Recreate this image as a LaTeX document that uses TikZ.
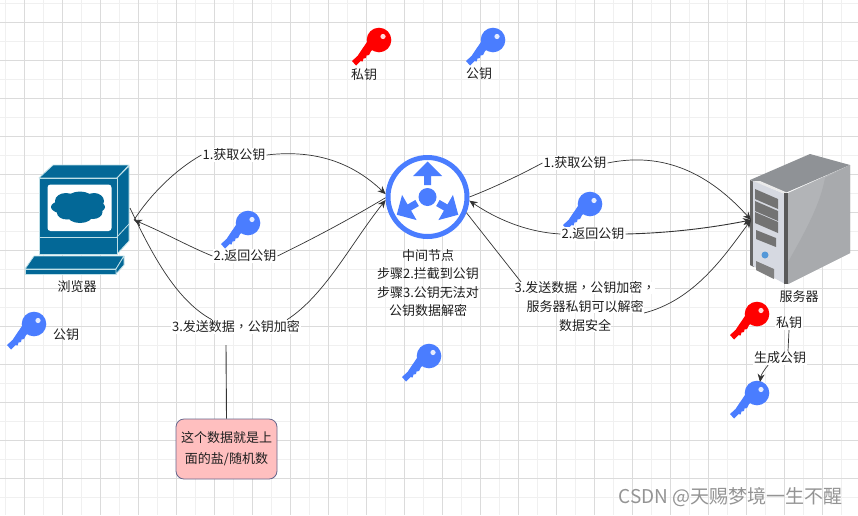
\documentclass[tikz,border=0pt]{standalone}
\usepackage{fontspec}
\setmainfont{Noto Sans CJK SC}
\newfontfamily\tcfont{Noto Sans CJK TC}
\newcommand{\cm}{{\tcfont ，}}
\newcommand{\wl}[1]{{\setlength{\fboxsep}{0pt}\colorbox{white}{#1}}}
\usetikzlibrary{arrows.meta}
\definecolor{keyblue}{HTML}{4A7DFF}
\definecolor{keyred}{HTML}{FF0000}
\definecolor{monblue}{HTML}{036897}
\definecolor{monedge}{HTML}{BFE0E8}
\definecolor{srvtop}{HTML}{8F9296}
\definecolor{srvside}{HTML}{B2B4B7}
\definecolor{srvsideb}{HTML}{A8AAAD}
\definecolor{srvfront}{HTML}{D6D9E1}
\tikzset{
  x=1pt,y=-1pt,
  txt/.style={font=\fontsize{13}{18.6}\selectfont,text=black!88,align=center,inner sep=1pt},
  lab/.style={txt,fill=white},
  conn/.style={draw=black!80,line width=0.7pt},
  tip/.style={-{Stealth[length=8pt,width=7pt]}},
  mon/.style={fill=monblue,draw=monedge,line width=0.8pt,line join=round},
  keypic/.pic={
    \fill[pic actions] (-21.5,16) -- (-27,21) -- (-23,25.5) -- (-18.5,21) -- (-16.5,21.5) -- (-15.5,18.5) -- (-13,18) -- (-12.5,15.5) -- (-10,15) -- (-8,11) -- (-3,8) -- (8,-8) -- (-8,-4) -- cycle;
    \fill[pic actions] (0,0) circle (12.3);
    \fill[white,opacity=.85] (4,-3.5) circle (2.6);
  }
}
\begin{document}
\begin{tikzpicture}
\useasboundingbox (0,0) rectangle (858,515);
\fill[white] (0,0) rectangle (858,515);
% grid
\foreach \i in {-1,...,44} {\draw[black!6,line width=.75pt] ({5.3+19*\i},0) -- ({5.3+19*\i},515);}
\foreach \i in {0,...,27} {\draw[black!6,line width=.75pt] (0,{3+19*\i}) -- (858,{3+19*\i});}
\foreach \i in {0,...,22} {\draw[black!14,line width=.75pt] ({24.3+38*\i-0},0) -- ({24.3+38*\i},515);}
\foreach \i in {0,...,13} {\draw[black!14,line width=.75pt] (0,{22.3+38*\i}) -- (858,{22.3+38*\i});}

% browser
\path[mon] (39,178) -- (53,165) -- (129,165) -- (117,178) -- cycle;
\path[mon] (117,178) -- (129,166) -- (129,241) -- (117,254) -- cycle;
\path[mon] (39,178) rectangle (117,237);
\path[mon] (39,237) rectangle (117,254);
\draw[monedge,line width=.8pt] (117,237) -- (129,224);
\fill[white,rounded corners=3] (47.5,184.5) rectangle (111.5,231);
\fill[monblue] (78,207) ellipse (27 and 9);
\fill[monblue] (66,201) ellipse (11 and 8);
\fill[monblue] (80,199) ellipse (13 and 7.5);
\fill[monblue] (94,201) ellipse (10 and 8);
\fill[monblue] (67,213) ellipse (10 and 6.5);
\fill[monblue] (80,215) ellipse (13 and 8);
\fill[monblue] (93,212) ellipse (9.5 and 7);
\path[mon] (34,256) -- (124,256) -- (116,269) -- (25,269) -- cycle;
\path[mon] (25,269) rectangle (116,274);
\path[mon] (116,274) -- (124,265) -- (124,256) -- (116,269) -- cycle;
\coordinate (brow) at (134,220);
\coordinate (browB) at (130,208);
\node[txt] (browL) at (77,287) {浏览器};

% router
\node[circle,draw=keyblue,line width=5pt,minimum size=79pt,inner sep=0pt,fill=white] (mid) at (427.5,197) {};
\fill[keyblue] (mid.center) circle (9);
\foreach \a in {0,120,240} {
  \fill[keyblue,shift={(427.5,197)},rotate=\a] (0,-35.5) -- (14.5,-21) -- (3.5,-21) -- (3.5,-12) -- (-3.5,-12) -- (-3.5,-21) -- (-14.5,-21) -- cycle;
}

% server
\fill[srvtop] (750,180) -- (810,154) -- (850,165) -- (785,193) -- cycle;
\fill[srvside] (788,193) -- (850,165) -- (850,253) -- (788,284) -- cycle;
\fill[srvsideb] (825,178) .. controls (820,205) and (805,232) .. (788,262) -- (788,284) -- (850,253) -- (850,165) -- cycle;
\fill[black!60] (750,180) -- (754,182) -- (754,267) -- (750,265) -- cycle;
\fill[srvfront] (753,181) -- (785,194) -- (785,284) -- (753,266) -- cycle;
\fill[black!8] (753,181) -- (785,194) -- (788,193) -- (760,181) -- cycle;
\fill[black!65] (784,193) -- (788,193) -- (788,284) -- (784,284) -- cycle;
\fill[black!55] (755,189) -- (778,199) -- (778,209) -- (755,199) -- cycle;
\fill[black!55] (755,201) -- (778,211) -- (778,221) -- (755,211) -- cycle;
\fill[black!55] (755,212) -- (778,222) -- (778,233) -- (755,223) -- cycle;
\fill[black!55] (756,230) -- (776,238) -- (776,247) -- (756,239) -- cycle;
\fill[black!50] (756,261) -- (774,269) -- (774,279) -- (756,270) -- cycle;
\fill[cyan!60!blue!70] (765,255) circle (3.5);
\coordinate (serv) at (751,220);
\node[txt] (servL) at (799,297) {服务器};

% keys
\pic[keyred] at (379,40) {keypic};
\pic[keyblue] at (493,40) {keypic};
\pic[keyblue] at (34,324) {keypic};
\pic[keyblue] at (248,223) {keypic};
\pic[keyblue] at (590,204) {keypic};
\pic[keyblue] at (429,356) {keypic};
\pic[keyred] at (757,314) {keypic};
\pic[keyblue] at (757,393) {keypic};

% labels
\node[txt] (pri) at (364,75) {私钥};
\node[txt] (pub) at (479,74) {公钥};
\node[txt] (pubL) at (66,335) {公钥};
\node[txt] (midT) at (428,283) {中间节点\\步骤2.拦截到公钥\\步骤3.公钥无法对\\公钥数据解密};
\node[lab] (la1) at (234,155) {1.获取公钥};
\node[lab] (la2) at (245,256) {2.返回公钥};
\node[lab] (la3) at (236,327) {3.发送数据\cm 公钥加密};
\node[lab] (ra1) at (575,163) {1.获取公钥};
\node[lab] (ra2) at (593,234) {2.返回公钥};
\coordinate (ra3L) at (521,282);
\coordinate (ra3R) at (644,313);
\node[lab] (sk) at (789,323) {私钥};
\node[lab] (gen) at (780,358) {生成公钥};
\coordinate (kb) at (760,382);
\node[draw=black!75!blue!60,fill=red!25,rounded corners=8pt,line width=.8pt,minimum width=101pt,minimum height=60pt,inner sep=2pt,txt,font=\fontsize{13}{21}\selectfont] (box) at (226.5,449) {这个数据就是上\\面的盐/随机数};

% connectors
\draw[conn] (brow) .. controls (150,195) and (175,170) .. (la1.west);
\draw[conn,tip] (la1.east) .. controls (325,148) and (360,170) .. (mid.176);
\draw[conn,tip] (la2.west) .. controls (190,247) and (165,233) .. (brow);
\draw[conn] (mid.181) .. controls (345,222) and (310,240) .. (la2.east);
\draw[conn] (browB) .. controls (150,250) and (175,300) .. (la3.north -| 212,320);
\draw[conn,tip] (la3.north -| 287,320) .. controls (325,295) and (350,245) .. (mid.184);
\draw[conn] (mid.0) .. controls (495,187) and (520,175) .. (ra1.west);
\draw[conn,tip] (ra1.east) .. controls (670,150) and (715,180) .. (serv);
\draw[conn,tip] (ra2.west) .. controls (525,232) and (495,218) .. (mid.355);
\draw[conn,line width=.9pt,tip] (ra2.east) .. controls (670,233) and (710,228) .. (serv);
\draw[conn] (mid.338) -- (ra3L);
\draw[conn,tip] (ra3R) .. controls (695,300) and (725,255) .. (serv);
\draw[conn] (sk.south -| 789,338) -- (gen.north -| 788,349);
\draw[conn,tip] (gen.south -| 768,367) .. controls (764,370) and (761,375) .. (kb);
\draw[conn,line width=.9pt] (226,345) -- (box.north);
\node[txt,font=\fontsize{13}{19}\selectfont] (ra3) at (585,307) {\wl{3.发送数据\cm 公钥加密\cm}\\\wl{服务器私钥可以解密}\\\wl{数据安全}};
\node[font=\fontsize{19}{20}\selectfont,text=black!42,inner sep=0pt,anchor=east] (wm) at (843,497) {CSDN @天赐梦境一生不醒};
\end{tikzpicture}
\end{document}
